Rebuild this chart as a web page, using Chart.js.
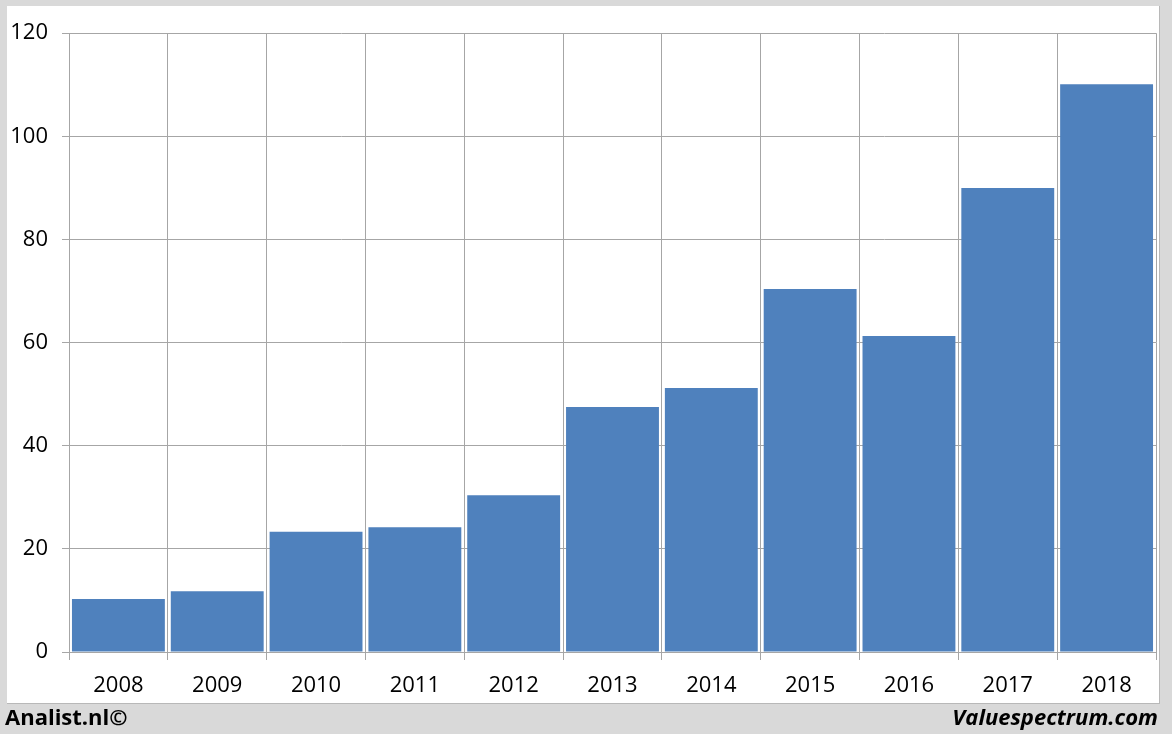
<!DOCTYPE html>
<html lang="nl">
<head>
    <meta charset="UTF-8">
    <script src="https://cdn.jsdelivr.net/npm/chart.js"></script>
    <title>Analist.nl</title>
    <style>
        body {
            margin: 0;
            padding: 0;
            background-color: #d9d9d9;
            width: 1172px;
            height: 734px;
            position: relative;
            overflow: hidden;
            font-family: "Open Sans", "Liberation Sans", sans-serif;
        }
        #panel {
            position: absolute;
            left: 7px;
            top: 6px;
            width: 1152px;
            height: 697px;
            background: #fff;
            border-right: 1px solid #b8b8b8;
            border-bottom: 1px solid #b8b8b8;
        }
        .foot {
            position: absolute;
            top: 701px;
            font-size: 22px;
            font-weight: bold;
            color: #000;
        }
        #left { left: 5px; }
        #right { right: 14px; font-style: italic; }
    </style>
</head>
<body>
    <div id="panel"><canvas id="chart" width="1152" height="697"></canvas></div>
    <div class="foot" id="left">Analist.nl©</div>
    <div class="foot" id="right">Valuespectrum.com</div>

    <script>
        const years = ['2008', '2009', '2010', '2011', '2012', '2013', '2014', '2015', '2016', '2017', '2018'];
        const values = [10.3, 11.8, 23.3, 24.2, 30.4, 47.5, 51.2, 70.4, 61.3, 90.0, 110.1];

        new Chart(document.getElementById('chart'), {
            type: 'bar',
            data: {
                labels: years,
                datasets: [{
                    data: values,
                    backgroundColor: '#4f81bd',
                    barPercentage: 0.94,
                    categoryPercentage: 1.0
                }]
            },
            options: {
                responsive: false,
                animation: false,
                layout: { padding: { top: 27, right: 3, left: 0, bottom: 0 } },
                plugins: { legend: { display: false }, tooltip: { enabled: false } },
                scales: {
                    x: {
                        grid: { color: '#a6a6a6', tickLength: 8, offset: true },
                        border: { color: '#a6a6a6' },
                        ticks: { color: '#000', font: { size: 22, family: 'Open Sans' }, padding: 13 },
                        afterFit: s => { s.height = 51; }
                    },
                    y: {
                        min: 0,
                        max: 120,
                        grid: { color: '#a6a6a6', tickLength: 7 },
                        border: { color: '#a6a6a6' },
                        ticks: { stepSize: 20, color: '#000', font: { size: 22, family: 'Open Sans' }, padding: 14 },
                        afterFit: s => { s.width = 62; }
                    }
                }
            }
        });
    </script>
</body>
</html>
